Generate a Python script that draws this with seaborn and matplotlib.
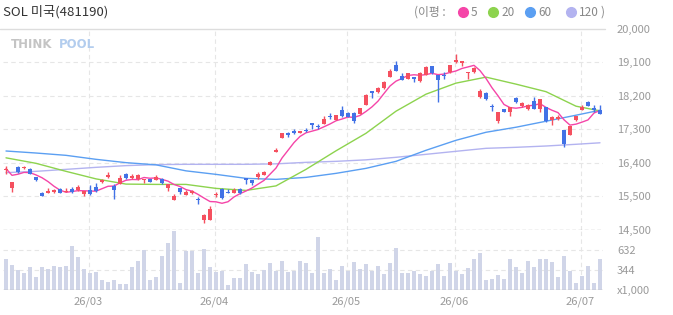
import numpy as np
import pandas as pd
import matplotlib.pyplot as plt
import seaborn as sns
from matplotlib.lines import Line2D

# ======================================
# Data
# ======================================

open_ = [16205, 15735, 16285, 16260, 16245, 16020, 15600, 15600, 15615, 15705,
         15615, 15690, 15680, 15555, 15660, 15740, 15885, 16020, 15775, 15825,
         16090, 15985, 15955, 15930, 15955, 15940, 15955, 15735, 15400, 15715,
         15535, 15580, 15420, 14880, 14865, 15535, 15695, 15625, 15590, 15695,
         16000, 15940, 16020, 16070, 16350, 16690, 17065, 17210, 17240, 17200,
         17275, 17455, 17390, 17435, 17650, 17550, 17810, 17730, 17730, 17705,
         17955, 18315, 18285, 18400, 18705, 19020, 18725, 18660, 18690, 18590,
         18760, 19000, 18750, 18750, 18825, 19090, 19065, 18795, 18825, 18170,
         18260, 17910, 17525, 17835, 17775, 18150, 17910, 17835, 18070, 17835,
         17900, 17540, 17585, 17275, 17145, 17550, 17810, 18035, 17865, 17810]
high = [16315, 15890, 16315, 16315, 16260, 16025, 15605, 15735, 15690, 15715,
        15735, 15750, 15795, 15650, 15795, 15870, 15960, 16155, 15825, 16065,
        16120, 16090, 16090, 15960, 15965, 16065, 15985, 15830, 15555, 15735,
        15660, 15670, 15475, 15020, 15240, 15625, 15735, 15705, 15715, 15715,
        16005, 15945, 16145, 16180, 16450, 16790, 17200, 17215, 17300, 17265,
        17325, 17460, 17435, 17650, 17740, 17685, 17910, 17775, 17775, 17870,
        18240, 18320, 18435, 18600, 18910, 19135, 18820, 18805, 18695, 18825,
        19000, 19005, 18755, 18840, 19025, 19315, 19140, 18830, 18960, 18375,
        18285, 17970, 17755, 17845, 17905, 18160, 18020, 17970, 18160, 18110,
        17905, 17655, 17685, 17280, 17395, 17665, 17955, 18060, 17955, 17955]
low = [16090, 15615, 16135, 16225, 16090, 15910, 15500, 15595, 15600, 15580,
       15610, 15580, 15655, 15510, 15545, 15630, 15865, 15985, 15420, 15820,
       15955, 15955, 15930, 15850, 15880, 15930, 15825, 15640, 15395, 15570,
       15530, 15555, 15285, 14795, 14860, 15480, 15420, 15595, 15585, 15570,
       15825, 15795, 15955, 16065, 16345, 16685, 17060, 17095, 17165, 17195,
       17235, 17300, 17300, 17430, 17570, 17545, 17615, 17615, 17480, 17700,
       17950, 18150, 18280, 18375, 18700, 18850, 18620, 18655, 18555, 18570,
       18755, 18790, 18035, 18660, 18820, 19085, 19000, 18660, 18805, 18125,
       18090, 17790, 17480, 17755, 17650, 18010, 17890, 17810, 17850, 17775,
       17505, 17415, 17540, 16825, 17140, 17525, 17805, 17910, 17770, 17715]
close = [16245, 15885, 16155, 16290, 16110, 15940, 15510, 15640, 15660, 15590,
         15655, 15610, 15760, 15640, 15555, 15640, 15940, 16085, 15670, 15985,
         15985, 16045, 16065, 15955, 15885, 16030, 15850, 15825, 15510, 15615,
         15615, 15640, 15395, 15015, 15150, 15575, 15445, 15600, 15660, 15590,
         15930, 15850, 16110, 16165, 16420, 16755, 17195, 17140, 17200, 17245,
         17245, 17415, 17360, 17570, 17615, 17675, 17650, 17630, 17525, 17865,
         18215, 18265, 18395, 18555, 18865, 18865, 18625, 18800, 18645, 18795,
         18960, 18795, 18625, 18715, 19020, 19155, 19135, 18825, 18930, 18315,
         18105, 17885, 17750, 17765, 17900, 18020, 18000, 17945, 17855, 18105,
         17525, 17615, 17630, 16895, 17390, 17655, 17885, 17925, 17820, 17720]
volume = [506, 418, 344, 300, 388, 241, 388, 359, 403, 388,
          403, 684, 521, 359, 300, 314, 196, 167, 196, 137,
          137, 388, 477, 625, 196, 241, 536, 728, 905, 152,
          615, 610, 300, 639, 388, 314, 329, 122, 226, 226,
          433, 314, 285, 344, 447, 329, 477, 314, 329, 477,
          447, 300, 817, 300, 359, 196, 403, 329, 462, 359,
          433, 329, 403, 285, 447, 654, 300, 300, 329, 285,
          255, 329, 433, 255, 447, 329, 285, 374, 506, 580,
          196, 211, 270, 211, 506, 388, 300, 477, 388, 492,
          492, 462, 241, 536, 329, 152, 255, 403, 152, 506]

# longer moving averages, read every 5 sessions
ma_days = [0, 5, 10, 15, 20, 25, 30, 35, 40, 45, 50,
           55, 60, 65, 70, 75, 80, 85, 90, 95, 99]
ma20 = [16534, 16387, 16172, 15970, 15830, 15822, 15822, 15715, 15661, 15782, 16225,
        16722, 17192, 17784, 18240, 18536, 18697, 18509, 18307, 17918, 17793]
ma60 = [16717, 16663, 16601, 16494, 16405, 16346, 16185, 16091, 15984, 15957, 16010,
        16118, 16252, 16440, 16736, 17004, 17219, 17354, 17515, 17676, 17810]
ma120 = [16137, 16172, 16225, 16279, 16325, 16352, 16360, 16360, 16360, 16373, 16413,
         16440, 16480, 16548, 16628, 16709, 16789, 16816, 16851, 16897, 16937]

month_first_day = [14, 35, 57, 75, 96]
month_labels = ['26/03', '26/04', '26/05', '26/06', '26/07']

price_ticks = [20000, 19100, 18200, 17300, 16400, 15500]
price_floor = 14600
price_floor_label = '14,500'
vol_ticks = [344, 632]
vol_range = (56, 920)

df = pd.DataFrame({'open': open_, 'high': high, 'low': low,
                   'close': close, 'volume': volume})
df['day'] = np.arange(len(df))
df['ma5'] = df['close'].rolling(5, min_periods=1).mean()
df['up'] = df['close'] >= df['open']

# ======================================
# Style
# ======================================

sns.set_style('white')
plt.rcParams['font.family'] = ['Noto Sans CJK KR', 'DejaVu Sans']

RED = '#f5505f'
BLUE = '#4272e6'
C5, C20, C60, C120 = '#f545a8', '#8dd34e', '#5b9ff2', '#b3b3f0'
GRID = '#e6e6e6'
TICK = '#9a9a9a'

W, H = 673, 315
def fx(x):
    return x / W
def fy(y):
    return 1 - y / H

fig = plt.figure(figsize=(6.73, 3.15), dpi=100)
ax = fig.add_axes([fx(3), fy(230), 600 / W, (230 - 28.5) / H])
axv = fig.add_axes([fx(3), fy(289.5), 600 / W, (289.5 - 230) / H])

grid_x = [d - 0.25 for d in month_first_day]
dash = (0, (4, 3))

# ======================================
# Price panel
# ======================================

for d in grid_x:
    ax.axvline(d, color=GRID, lw=0.8, ls=dash, zorder=0)
for p in price_ticks[1:]:
    ax.axhline(p, color=GRID, lw=0.8, ls=dash, zorder=0)

sns.lineplot(x=ma_days, y=ma120, color=C120, lw=1, ax=ax, zorder=2)
sns.lineplot(x=ma_days, y=ma60, color=C60, lw=1, ax=ax, zorder=2)
sns.lineplot(x=ma_days, y=ma20, color=C20, lw=1, ax=ax, zorder=2)
sns.lineplot(data=df, x='day', y='ma5', color=C5, lw=1, ax=ax, zorder=2)

colors = np.where(df['up'], RED, BLUE)
body_lo = df[['open', 'close']].min(axis=1)
body_h = (df['close'] - df['open']).abs().clip(lower=28)
ax.vlines(df['day'], df['low'], df['high'], colors=colors, lw=1, zorder=3)
ax.bar(df['day'], body_h, bottom=body_lo, width=0.8, color=colors,
       linewidth=0, zorder=4)

ax.set_xlim(-0.5, len(df) - 0.5)
ax.set_ylim(price_floor, price_ticks[0])
ax.set_yticks(price_ticks + [price_floor])
ax.set_yticklabels([f'{p:,}' for p in price_ticks] + [price_floor_label])
ax.yaxis.tick_right()
ax.tick_params(axis='y', length=0, pad=10, labelsize=8, labelcolor=TICK)
ax.set_xticks([])
ax.set_xlabel('')
ax.set_ylabel('')
for s in ax.spines.values():
    s.set_visible(False)
ax.axhline(price_floor, color='#9a9a9a', lw=0.9, ls=(0, (3, 2)), zorder=5)

# ======================================
# Volume panel
# ======================================

for d in grid_x:
    axv.axvline(d, color=GRID, lw=0.8, ls=dash, zorder=0)
for v in vol_ticks:
    axv.axhline(v, color=GRID, lw=0.8, ls=dash, zorder=0)

sns.barplot(data=df, x='day', y='volume', native_scale=True, width=0.8,
            color='#d0d5e8', saturation=1, linewidth=0, ax=axv, zorder=2)

axv.set_xlim(-0.5, len(df) - 0.5)
axv.set_ylim(*vol_range)
axv.set_yticks([vol_range[0]] + vol_ticks)
axv.set_yticklabels(['x1,000'] + [str(v) for v in vol_ticks])
axv.yaxis.tick_right()
axv.tick_params(axis='y', length=0, pad=10, labelsize=8, labelcolor=TICK)
axv.set_xticks(grid_x)
axv.set_xticklabels(month_labels)
axv.tick_params(axis='x', length=0, pad=5, labelsize=8, labelcolor=TICK)
axv.set_xlabel('')
axv.set_ylabel('')
for s in axv.spines.values():
    s.set_visible(False)
axv.axhline(vol_range[0], color='#b8b8b8', lw=1, zorder=3)

# ======================================
# Header, legend, watermark
# ======================================

fig.add_artist(Line2D([0, fx(605)], [fy(28.5), fy(28.5)],
                      transform=fig.transFigure, color='#dddddd', lw=1))

fig.text(fx(3), fy(12), 'SOL 미국(481190)', fontsize=9.5, color='#333333',
         va='center', ha='left')

fig.text(fx(414), fy(12), '(이평 :', fontsize=8.5, color='#888888',
         va='center', ha='left')
legend_items = [('5', C5, 463), ('20', C20, 493), ('60', C60, 530), ('120', C120, 571)]
for lab, col, xpx in legend_items:
    fig.add_artist(Line2D([fx(xpx)], [fy(12)], transform=fig.transFigure,
                          marker='o', markersize=7, color=col, lw=0))
    fig.text(fx(xpx + 8), fy(12), lab, fontsize=8.5, color='#888888',
             va='center', ha='left')
fig.text(fx(601), fy(12), ')', fontsize=8.5, color='#888888',
         va='center', ha='left')

fig.text(fx(11), fy(44), 'THINK', fontsize=8.5, fontweight='bold',
         color='#c4c4c4', va='center', ha='left', family='DejaVu Sans')
fig.text(fx(59), fy(44), 'POOL', fontsize=8.5, fontweight='bold',
         color='#b3cdee', va='center', ha='left', family='DejaVu Sans')

plt.savefig('out.png', dpi=100)
